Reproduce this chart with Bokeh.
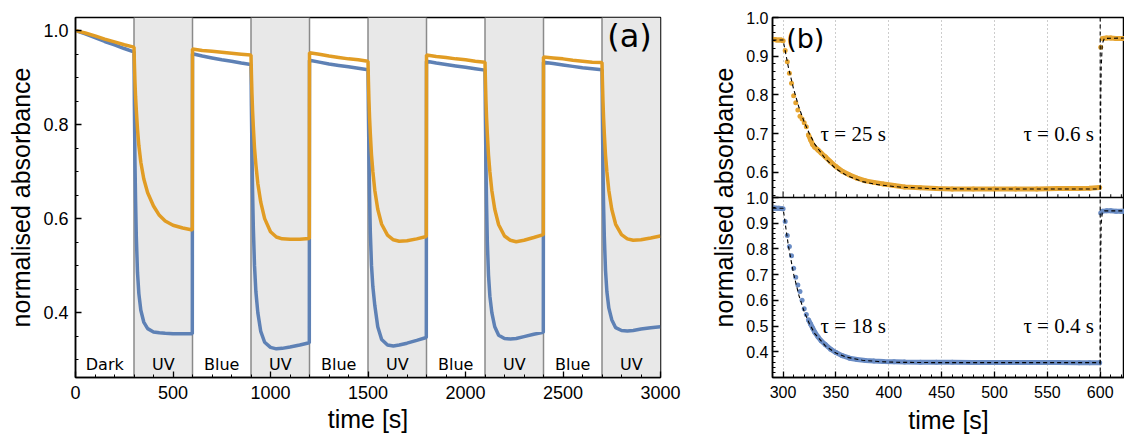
from bokeh.plotting import figure
from bokeh.layouts import row
from bokeh.models import (Range1d, SingleIntervalTicker, FixedTicker, PrintfTickFormatter,
                          BoxAnnotation, Span)
from bokeh.core.properties import value
from bokeh.embed import file_html
from bokeh.resources import INLINE

BLUE = "#5E81B5"
ORANGE = "#E19C24"
BLUE_DOT = "#6A8CC4"
ORANGE_DOT = "#E6A532"

# ---------------- panel (a) data ----------------
seg_starts = [0, 300, 600, 900, 1200, 1500, 1800, 2100, 2400, 2700]
seg_kind = ["Dark", "UV", "Blue", "UV", "Blue", "UV", "Blue", "UV", "Blue", "UV"]
vis_offsets = [0, 50, 100, 150, 200, 250, 299]
uv_offsets = [0, 2, 5, 8, 12, 18, 25, 35, 50, 70, 100, 130, 160, 200, 250, 299]

blue_dark = [1.000, 0.993, 0.985, 0.977, 0.970, 0.962, 0.955]
blue_vis1 = [0.951, 0.946, 0.942, 0.938, 0.935, 0.931, 0.928]
blue_vis2 = [0.937, 0.933, 0.929, 0.926, 0.923, 0.920, 0.917]
blue_vis3 = [0.935, 0.931, 0.928, 0.925, 0.922, 0.919, 0.916]
blue_vis4 = [0.933, 0.930, 0.927, 0.924, 0.921, 0.919, 0.917]
blue_uv1 = [0.955, 0.84, 0.72, 0.64, 0.56, 0.485, 0.44, 0.405, 0.38, 0.366, 0.359, 0.357, 0.356, 0.355, 0.355, 0.355]
blue_uv2 = [0.928, 0.84, 0.74, 0.66, 0.58, 0.50, 0.445, 0.40, 0.36, 0.337, 0.326, 0.323, 0.324, 0.327, 0.331, 0.336]
blue_uv3 = [0.917, 0.83, 0.73, 0.65, 0.57, 0.50, 0.455, 0.415, 0.37, 0.343, 0.331, 0.329, 0.331, 0.335, 0.341, 0.347]
blue_uv4 = [0.916, 0.82, 0.71, 0.63, 0.55, 0.48, 0.435, 0.40, 0.37, 0.352, 0.345, 0.344, 0.345, 0.349, 0.354, 0.358]
blue_uv5 = [0.917, 0.82, 0.71, 0.63, 0.56, 0.49, 0.445, 0.41, 0.385, 0.368, 0.362, 0.361, 0.362, 0.365, 0.368, 0.370]

orange_dark = [1.000, 0.995, 0.989, 0.982, 0.976, 0.970, 0.965]
orange_vis1 = [0.961, 0.958, 0.956, 0.954, 0.952, 0.950, 0.948]
orange_vis2 = [0.953, 0.950, 0.946, 0.943, 0.940, 0.938, 0.935]
orange_vis3 = [0.948, 0.945, 0.943, 0.940, 0.938, 0.935, 0.933]
orange_vis4 = [0.944, 0.942, 0.940, 0.937, 0.935, 0.933, 0.932]
orange_uv1 = [0.965, 0.93, 0.89, 0.86, 0.83, 0.79, 0.755, 0.72, 0.685, 0.655, 0.627, 0.607, 0.595, 0.586, 0.580, 0.576]
orange_uv2 = [0.948, 0.91, 0.865, 0.83, 0.795, 0.75, 0.715, 0.675, 0.635, 0.60, 0.572, 0.561, 0.557, 0.556, 0.556, 0.558]
orange_uv3 = [0.935, 0.895, 0.85, 0.815, 0.78, 0.735, 0.70, 0.66, 0.62, 0.588, 0.565, 0.555, 0.552, 0.553, 0.557, 0.562]
orange_uv4 = [0.933, 0.895, 0.85, 0.815, 0.78, 0.735, 0.70, 0.66, 0.62, 0.587, 0.563, 0.554, 0.551, 0.554, 0.560, 0.566]
orange_uv5 = [0.932, 0.895, 0.85, 0.815, 0.78, 0.735, 0.70, 0.66, 0.62, 0.588, 0.566, 0.557, 0.554, 0.555, 0.559, 0.563]

blue_segments = [blue_dark, blue_uv1, blue_vis1, blue_uv2, blue_vis2, blue_uv3, blue_vis3, blue_uv4, blue_vis4, blue_uv5]
orange_segments = [orange_dark, orange_uv1, orange_vis1, orange_uv2, orange_vis2, orange_uv3, orange_vis3, orange_uv4, orange_vis4, orange_uv5]

# ---------------- panel (b) data ----------------
b_t = [290, 292, 294, 296, 298, 300, 302, 304, 306, 308, 310, 312, 314, 316, 318, 320, 322, 324, 326, 328,
       330, 333, 336, 340, 345, 350, 356, 363, 370, 378, 386, 395, 405, 415, 430, 445, 460, 480, 500, 520,
       540, 560, 580, 590, 599.5, 600.5, 602, 606, 610, 615, 620, 623]
b_orange = [0.943, 0.943, 0.942, 0.942, 0.942, 0.940, 0.915, 0.886, 0.856, 0.830, 0.798, 0.780, 0.761, 0.745,
            0.738, 0.728, 0.718, 0.697, 0.684, 0.672, 0.665, 0.658, 0.650, 0.640, 0.627, 0.615, 0.603, 0.593,
            0.585, 0.578, 0.574, 0.570, 0.566, 0.562, 0.560, 0.558, 0.557, 0.557, 0.557, 0.557, 0.557, 0.558,
            0.558, 0.559, 0.561, 0.923, 0.946, 0.947, 0.947, 0.946, 0.946, 0.946]
b_blue = [0.958, 0.959, 0.958, 0.958, 0.957, 0.956, 0.907, 0.852, 0.809, 0.773, 0.725, 0.690, 0.660, 0.634,
          0.600, 0.567, 0.545, 0.525, 0.508, 0.492, 0.476, 0.458, 0.443, 0.428, 0.410, 0.397, 0.385, 0.375,
          0.370, 0.366, 0.364, 0.362, 0.361, 0.360, 0.359, 0.359, 0.359, 0.358, 0.358, 0.358, 0.358, 0.358,
          0.357, 0.357, 0.357, 0.940, 0.947, 0.948, 0.948, 0.947, 0.947, 0.947]
fit_t = [290, 300, 305, 310, 315, 320, 325, 330, 340, 350, 360, 375, 390, 410, 440, 480, 600, 600.5, 601, 602, 604, 623]
fit_orange = [0.942, 0.942, 0.872, 0.815, 0.768, 0.730, 0.699, 0.673, 0.635, 0.609, 0.592, 0.576, 0.568, 0.562,
              0.558, 0.557, 0.557, 0.777, 0.873, 0.933, 0.946, 0.947]
fit_blue = [0.958, 0.958, 0.813, 0.702, 0.619, 0.556, 0.508, 0.471, 0.423, 0.395, 0.379, 0.367, 0.362, 0.359,
            0.358, 0.358, 0.358, 0.779, 0.900, 0.944, 0.948, 0.948]
tau_top = ["τ = 25 s", "τ = 0.6 s"]
tau_bot = ["τ = 18 s", "τ = 0.4 s"]
top_ticks = [0.6, 0.7, 0.8, 0.9, 1.0]
bot_ticks = [0.4, 0.5, 0.6, 0.7, 0.8, 0.9, 1.0]

SANS = "Liberation Sans"


def build(segs):
    t, v = [], []
    for s, k, vals in zip(seg_starts, seg_kind, segs):
        offs = uv_offsets if k == "UV" else vis_offsets
        t += [s + o for o in offs]
        v += vals
    return t, v


def style_axis(ax, tick_size, std_lab, std_title):
    ax.major_tick_in = 6
    ax.major_tick_out = 0
    ax.minor_tick_in = 3
    ax.minor_tick_out = 0
    ax.axis_line_width = 1.5
    ax.axis_line_color = "black"
    ax.major_tick_line_width = 1.3
    ax.minor_tick_line_width = 1
    ax.major_tick_line_color = "black"
    ax.minor_tick_line_color = "black"
    ax.major_label_text_font = SANS
    ax.major_label_text_font_size = tick_size
    ax.major_label_text_color = "black"
    ax.axis_label_text_font = SANS
    ax.axis_label_text_font_size = "25px"
    ax.axis_label_text_font_style = "normal"
    ax.axis_label_text_color = "black"
    ax.major_label_standoff = std_lab
    ax.axis_label_standoff = std_title


# ---------------- panel (a) ----------------
p1 = figure(width=700, height=439, x_range=Range1d(0, 3000), y_range=Range1d(0.262, 1.028),
            output_backend="svg", toolbar_location=None,
            min_border_left=75, min_border_right=40, min_border_top=17, min_border_bottom=62)
p1.grid.visible = False
p1.outline_line_color = "black"
p1.outline_line_width = 1.5
p1.outline_line_alpha = 1
p1.background_fill_color = "white"

for s, k in zip(seg_starts, seg_kind):
    if k == "UV":
        p1.add_layout(BoxAnnotation(left=s, right=s + 300, fill_color="#e8e8e8", fill_alpha=1,
                                    line_alpha=0, level="underlay"))
for s in seg_starts[1:]:
    p1.add_layout(Span(location=s, dimension="height", line_color="#8a8a8a", line_width=1.5, level="underlay"))

bt, bv = build(blue_segments)
ot, ov = build(orange_segments)
p1.line(bt, bv, line_color=BLUE, line_width=3.5)
p1.line(ot, ov, line_color=ORANGE, line_width=3.5)

p1.text(x=[s + 150 for s in seg_starts], y=[0.29] * len(seg_starts), text=seg_kind,
        text_font=value("DejaVu Sans"), text_font_size="16px", text_align="center",
        text_baseline="middle", text_color="black")
p1.text(x=[2841], y=[0.989], text=["(a)"], text_font=value("DejaVu Sans"), text_font_size="32px",
        text_align="center", text_baseline="middle", text_color="black")

p1.xaxis.ticker = SingleIntervalTicker(interval=500, num_minor_ticks=5)
p1.yaxis.ticker = SingleIntervalTicker(interval=0.2, num_minor_ticks=4)
p1.yaxis.formatter = PrintfTickFormatter(format="%.1f")
p1.xaxis.axis_label = "time [s]"
p1.yaxis.axis_label = "normalised absorbance"
style_axis(p1.xaxis[0], "18px", 8, 3)
style_axis(p1.yaxis[0], "18px", 7, 5)

# ---------------- panel (b) ----------------
TOP_LO, TOP_HI = 0.07, 1.0     # top panel shows 0.535 .. 1.0 in upper half
BOT_LO, BOT_HI = 0.30, 1.70    # bottom panel shows 0.30 .. 1.0 in lower half

p2 = figure(width=424, height=439, x_range=Range1d(290, 623), y_range=Range1d(0, 1),
            output_backend="svg", toolbar_location=None,
            min_border_left=72, min_border_right=0, min_border_top=17, min_border_bottom=62)
p2.extra_y_ranges = {"top": Range1d(TOP_LO, TOP_HI), "bot": Range1d(BOT_LO, BOT_HI)}
p2.outline_line_color = "black"
p2.outline_line_width = 1.5
p2.outline_line_alpha = 1
p2.ygrid.visible = False
p2.xgrid.grid_line_color = "#9a9a9a"
p2.xgrid.grid_line_dash = "1 3"
p2.xgrid.grid_line_width = 1

def frac_top(v):
    return round((v - TOP_LO) / (TOP_HI - TOP_LO), 6)

def frac_bot(v):
    return round((v - BOT_LO) / (BOT_HI - BOT_LO), 6)

major = [frac_top(v) for v in top_ticks] + [frac_bot(v) for v in bot_ticks]
minor_top = [frac_top(0.54 + 0.02 * i) for i in range(23)]
minor_bot = [frac_bot(0.30 + 0.02 * i) for i in range(35)]
p2.yaxis.ticker = FixedTicker(ticks=major, minor_ticks=minor_top + minor_bot)
overrides = {frac_top(v): f"{v:.1f}" for v in top_ticks}
overrides.update({frac_bot(v): f"{v:.1f}" for v in bot_ticks})
p2.yaxis.major_label_overrides = overrides
p2.xaxis.ticker = SingleIntervalTicker(interval=50, num_minor_ticks=5)
p2.xaxis.axis_label = "time [s]"
p2.yaxis.axis_label = "normalised absorbance"
style_axis(p2.xaxis[0], "16px", 8, 5)
style_axis(p2.yaxis[0], "16px", 4, 5)

# dense measurement regions drawn as thick line + individual dots
pre = [i for i, t in enumerate(b_t) if t <= 300]
dense = [i for i, t in enumerate(b_t) if 324 <= t <= 599.5]
after = [i for i, t in enumerate(b_t) if t >= 602]
for vals, rng, col, dcol in [(b_orange, "top", ORANGE, ORANGE_DOT), (b_blue, "bot", BLUE, BLUE_DOT)]:
    for idx in (pre, dense, after):
        p2.line([b_t[i] for i in idx], [vals[i] for i in idx], line_color=dcol, line_width=5,
                y_range_name=rng)
    p2.scatter(b_t, vals, size=5, fill_color=dcol, line_alpha=0, y_range_name=rng)

p2.line(fit_t, fit_orange, line_color="black", line_dash="4 3", line_width=1.1, y_range_name="top")
p2.line(fit_t, fit_blue, line_color="black", line_dash="4 3", line_width=1.1, y_range_name="bot")
p2.add_layout(Span(location=600, dimension="height", line_color="black", line_dash="4 3", line_width=1.1))
p2.add_layout(Span(location=0.5, dimension="width", line_color="black", line_width=1.5))

# tick marks on the top panel's lower frame edge
edge_ticks = list(range(290, 624, 10))
p2.segment(x0=edge_ticks, y0=[0.5] * len(edge_ticks), x1=edge_ticks,
           y1=[0.5 + (0.017 if t % 50 == 0 else 0.009) for t in edge_ticks],
           line_color="black", line_width=1)

p2.text(x=[321], y=[0.945], text=["(b)"], text_font=value("DejaVu Sans"), text_font_size="27px",
        text_align="center", text_baseline="middle", text_color="black", y_range_name="top")
p2.text(x=[335.5], y=[0.70], text=[tau_top[0]], text_font=value("Liberation Serif"), text_font_size="21px",
        text_align="left", text_baseline="middle", text_color="black", y_range_name="top")
p2.text(x=[594], y=[0.70], text=[tau_top[1]], text_font=value("Liberation Serif"), text_font_size="21px",
        text_align="right", text_baseline="middle", text_color="black", y_range_name="top")
p2.text(x=[335.5], y=[0.50], text=[tau_bot[0]], text_font=value("Liberation Serif"), text_font_size="21px",
        text_align="left", text_baseline="middle", text_color="black", y_range_name="bot")
p2.text(x=[594], y=[0.50], text=[tau_bot[1]], text_font=value("Liberation Serif"), text_font_size="21px",
        text_align="right", text_baseline="middle", text_color="black", y_range_name="bot")

layout = row(p1, p2)
open("out.html", "w").write(file_html(layout, INLINE))
